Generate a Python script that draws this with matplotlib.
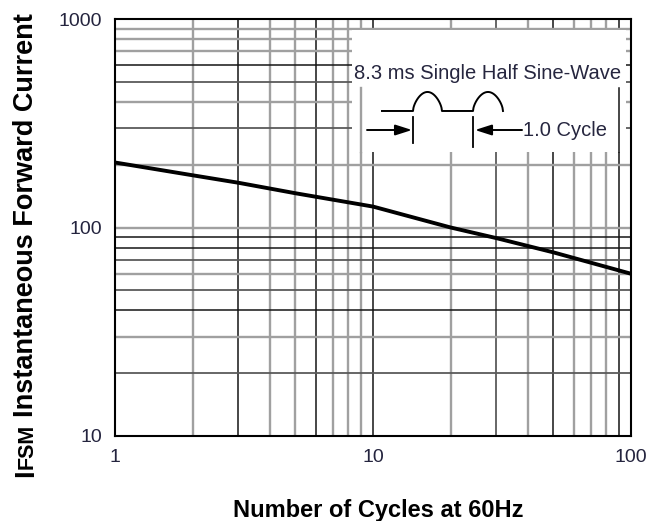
import numpy as np
import matplotlib
matplotlib.use("Agg")
import matplotlib.pyplot as plt
from matplotlib.patches import Rectangle

# ---- data ----
cycles = [1, 2, 3, 5, 10, 20, 30, 50, 100]
ifsm = [205, 178, 164, 146, 126, 100, 89, 76, 60]

x_ticks = [1, 10, 100]
x_tick_labels = ["1", "10", "100"]
y_ticks = [10, 100, 1000]
y_tick_labels = ["10", "100", "1000"]

x_grid = [2, 3, 4, 5, 6, 7, 8, 9, 10, 20, 30, 40, 50, 60, 70, 80, 90]
x_grid_dark = [3, 6, 10, 50, 90]
x_grid_mid = [30]
y_grid = [20, 30, 40, 50, 60, 70, 80, 90, 100, 200, 300, 400, 500, 600, 700, 800, 900]
y_grid_dark = [600, 90, 80, 40]
y_grid_mid = [500, 300, 70, 50, 20]

plt.rcParams['font.family'] = ['Liberation Sans', 'DejaVu Sans']

fig = plt.figure(figsize=(6.58, 5.21), dpi=100)
ax = fig.add_axes([115/658, (521-436)/521, (631-115)/658, (436-19)/521])
ax.set_xscale('log')
ax.set_yscale('log')
ax.set_xlim(1, 100)
ax.set_ylim(10, 1000)


def style(v, dark, mid):
    if v in dark:
        return dict(color='#151515', lw=1.1)
    if v in mid:
        return dict(color='#5a5a5a', lw=1.3)
    return dict(color='#a0a0a0', lw=1.7)


for v in x_grid:
    ax.axvline(v, zorder=1, **style(v, x_grid_dark, x_grid_mid))
for v in y_grid:
    ax.axhline(v, zorder=1, **style(v, y_grid_dark, y_grid_mid))

# curve
ax.plot(cycles, ifsm, color='black', lw=2.8, zorder=3, solid_capstyle='butt')

# ticks
ax.set_xticks(x_ticks)
ax.set_xticklabels(x_tick_labels)
ax.set_yticks(y_ticks)
ax.set_yticklabels(y_tick_labels)
ax.minorticks_off()
tick_color = '#24243e'
ax.tick_params(axis='both', length=0, labelsize=14, labelcolor=tick_color)
ax.tick_params(axis='y', pad=9)
ax.tick_params(axis='x', pad=9)
for s in ax.spines.values():
    s.set_linewidth(1.5)
    s.set_color('black')
    s.set_zorder(5)

# ---- inset (axes fraction coordinates) ----
box = Rectangle((0.4593, 0.681), 0.9903 - 0.4593, 0.9736 - 0.681,
                transform=ax.transAxes, facecolor='white', edgecolor='none', zorder=2)
ax.add_patch(box)
xa = ax.get_xaxis_transform()
for v in [9, 90]:
    ax.plot([v, v], [0.681, 0.8345], transform=xa, zorder=2.5,
            **style(v, x_grid_dark, x_grid_mid))

txt_color = '#26263f'
ax.text(0.7219, 0.8705, "8.3 ms Single Half Sine-Wave", transform=ax.transAxes,
        ha='center', va='center', fontsize=14.5, color=txt_color, zorder=4)
ax.text(0.7907, 0.7338, "1.0 Cycle", transform=ax.transAxes,
        ha='left', va='center', fontsize=14.5, color=txt_color, zorder=4)

# waveform
base_y, peak_y = 0.7794, 0.825
t = np.linspace(0, np.pi, 60)
a1 = np.linspace(0.5775, 0.6337, 60)
a2 = np.linspace(0.6938, 0.7519, 60)
wx = np.concatenate([[0.5174], a1, [0.6938], a2])
wy = np.concatenate([[base_y], base_y + (peak_y - base_y) * np.sin(t) ** 0.6, [base_y],
                     base_y + (peak_y - base_y) * np.sin(t) ** 0.6])
ax.plot(wx, wy, transform=ax.transAxes, color='black', lw=1.4, zorder=4)

# cycle markers
ax.plot([0.5775, 0.5775], [0.7026, 0.765], transform=ax.transAxes, color='black', lw=1.3, zorder=4)
ax.plot([0.6938, 0.6938], [0.693, 0.765], transform=ax.transAxes, color='black', lw=1.3, zorder=4)
ap = dict(arrowstyle='-|>,head_length=1.0,head_width=0.32', color='black', lw=1.4,
          shrinkA=0, shrinkB=0)
ax.annotate('', xy=(0.5756, 0.7338), xytext=(0.4884, 0.7338), xycoords='axes fraction',
            textcoords='axes fraction', arrowprops=ap, zorder=4)
ax.annotate('', xy=(0.6977, 0.7338), xytext=(0.7888, 0.7338), xycoords='axes fraction',
            textcoords='axes fraction', arrowprops=ap, zorder=4)

# x label
fig.text(378/658, (521-517)/521, "Number of Cycles at 60Hz", ha='center', va='baseline',
         fontsize=17, fontweight='bold', color='black')

# y label built in pieces (I + small-caps FSM + rest)
fig.canvas.draw()
renderer = fig.canvas.get_renderer()
x0 = 33/658
y_px = 477.0
pieces = [("I", 19.5, 0.0), ("FSM", 15.5, 0.0), ("Instantaneous Forward Current", 19.5, 0.278)]
for s, fs, lead in pieces:
    y_px -= lead * fs * 100 / 72
    tt = fig.text(x0, (521 - y_px)/521, s, rotation=90, rotation_mode='anchor',
                  ha='left', va='baseline', fontsize=fs, fontweight='bold', color='black')
    bb = tt.get_window_extent(renderer)
    y_px -= bb.height

fig.savefig("out.png", dpi=100)
